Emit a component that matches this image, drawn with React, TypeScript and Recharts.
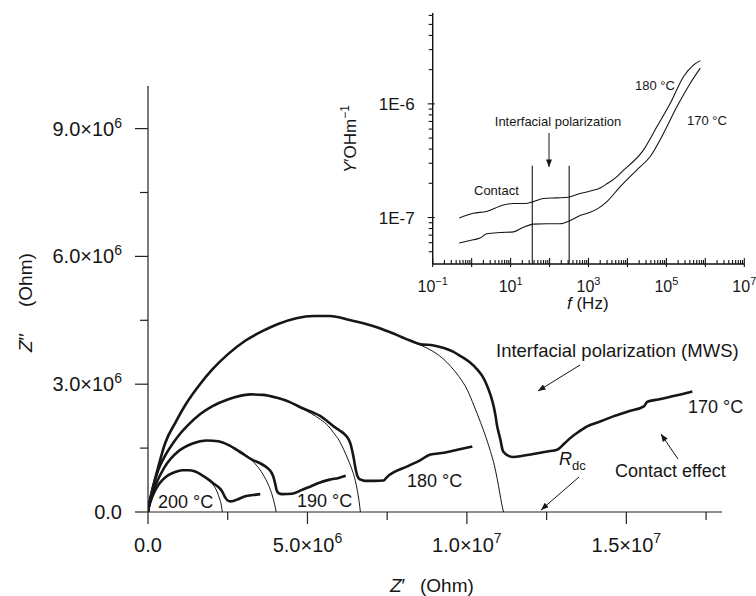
import React from "react";
import { ComposedChart, LineChart, Line, XAxis, YAxis } from "recharts";

const FONT = '"Liberation Sans", Arial, Helvetica, sans-serif';
const INK = "#161616";

// main plot: Z' and Z'' in units of 1e6 Ohm, [Z', Z'']
const fit200 = [[0, 0], [0.02, 0.09], [0.07, 0.22], [0.2, 0.47], [0.33, 0.64], [0.45, 0.75], [0.65, 0.87], [0.85, 0.94], [1.07, 0.98], [1.27, 0.98], [1.48, 0.95], [1.7, 0.86], [1.9, 0.75], [2.05, 0.63], [2.17, 0.47], [2.25, 0.3], [2.3, 0.16], [2.33, 0]];
const data200 = [[0, 0], [0.02, 0.09], [0.07, 0.22], [0.2, 0.47], [0.33, 0.64], [0.45, 0.75], [0.65, 0.87], [0.85, 0.94], [1.07, 0.98], [1.27, 0.98], [1.48, 0.95], [1.7, 0.86], [1.9, 0.76], [2.05, 0.67], [2.22, 0.58], [2.32, 0.49], [2.38, 0.4], [2.44, 0.32], [2.5, 0.27], [2.58, 0.25], [2.68, 0.26], [2.79, 0.29], [3.05, 0.37], [3.3, 0.4], [3.52, 0.42]];

const fit190 = [[0, 0], [0.02, 0.1], [0.07, 0.28], [0.23, 0.62], [0.5, 1.03], [0.96, 1.43], [1.4, 1.61], [1.85, 1.68], [2.2, 1.66], [2.53, 1.57], [3.0, 1.38], [3.3, 1.18], [3.55, 0.95], [3.75, 0.68], [3.88, 0.43], [3.97, 0.18], [4.02, 0]];
const data190 = [[0, 0], [0.02, 0.1], [0.07, 0.28], [0.23, 0.62], [0.5, 1.03], [0.96, 1.43], [1.4, 1.61], [1.85, 1.68], [2.2, 1.66], [2.53, 1.57], [2.9, 1.4], [3.26, 1.23], [3.5, 1.15], [3.68, 1.07], [3.82, 0.98], [3.89, 0.9], [3.95, 0.78], [3.99, 0.66], [4.03, 0.52], [4.1, 0.44], [4.2, 0.42], [4.52, 0.43], [4.83, 0.52], [5.1, 0.6], [5.35, 0.68], [5.7, 0.76], [5.98, 0.8], [6.2, 0.85]];

const fit180 = [[0, 0], [0.02, 0.1], [0.05, 0.23], [0.15, 0.57], [0.33, 1.0], [0.55, 1.34], [0.77, 1.6], [1.0, 1.83], [1.27, 2.05], [1.64, 2.3], [2.01, 2.48], [2.5, 2.64], [2.85, 2.72], [3.21, 2.76], [3.6, 2.75], [4.05, 2.68], [4.45, 2.57], [4.78, 2.44], [5.1, 2.32], [5.41, 2.17], [5.65, 2.02], [5.82, 1.86], [6.0, 1.67], [6.14, 1.46], [6.28, 1.22], [6.4, 0.99], [6.5, 0.74], [6.56, 0.52], [6.62, 0.25], [6.66, 0]];
const data180 = [[0, 0], [0.02, 0.1], [0.05, 0.23], [0.15, 0.57], [0.33, 1.0], [0.55, 1.34], [0.77, 1.6], [1.0, 1.83], [1.27, 2.05], [1.64, 2.3], [2.01, 2.48], [2.5, 2.64], [2.85, 2.72], [3.21, 2.76], [3.6, 2.75], [4.05, 2.68], [4.45, 2.58], [4.78, 2.46], [5.1, 2.36], [5.41, 2.25], [5.62, 2.13], [5.82, 2.01], [6.0, 1.92], [6.17, 1.82], [6.28, 1.72], [6.35, 1.6], [6.4, 1.45], [6.45, 1.27], [6.5, 1.05], [6.56, 0.86], [6.62, 0.78], [6.7, 0.75], [6.8, 0.73], [7.1, 0.73], [7.39, 0.74], [7.47, 0.8], [7.55, 0.86], [7.7, 0.93], [8.13, 1.07], [8.5, 1.2], [8.86, 1.35], [9.28, 1.39], [9.7, 1.46], [10.17, 1.54]];

const fit170 = [[0, 0], [0.02, 0.1], [0.05, 0.23], [0.13, 0.5], [0.28, 0.94], [0.54, 1.62], [0.86, 2.1], [1.22, 2.57], [1.6, 2.97], [2.01, 3.34], [2.5, 3.7], [3.05, 4.02], [3.6, 4.25], [4.1, 4.42], [4.65, 4.55], [5.2, 4.6], [5.7, 4.6], [6.36, 4.5], [7.0, 4.38], [7.6, 4.22], [8.2, 4.02], [8.6, 3.9], [8.96, 3.76], [9.25, 3.6], [9.49, 3.42], [9.75, 3.18], [10.01, 2.87], [10.22, 2.5], [10.43, 2.1], [10.6, 1.75], [10.74, 1.42], [10.86, 1.1], [10.95, 0.78], [11.03, 0.45], [11.09, 0.2], [11.15, 0]];
const data170 = [[0, 0], [0.02, 0.1], [0.05, 0.23], [0.13, 0.5], [0.28, 0.94], [0.54, 1.62], [0.86, 2.1], [1.22, 2.57], [1.6, 2.97], [2.01, 3.34], [2.5, 3.7], [3.05, 4.02], [3.6, 4.25], [4.1, 4.42], [4.65, 4.55], [5.2, 4.6], [5.7, 4.6], [6.36, 4.5], [7.0, 4.38], [7.6, 4.22], [8.2, 4.03], [8.54, 3.94], [8.96, 3.91], [9.28, 3.85], [9.55, 3.77], [9.8, 3.66], [10.08, 3.52], [10.32, 3.35], [10.5, 3.17], [10.64, 2.95], [10.76, 2.7], [10.84, 2.48], [10.9, 2.25], [10.95, 2.01], [11.0, 1.85], [11.05, 1.7], [11.09, 1.55], [11.12, 1.45], [11.16, 1.4], [11.25, 1.34], [11.47, 1.29], [11.75, 1.32], [12.0, 1.35], [12.52, 1.42], [12.83, 1.46], [13.05, 1.6], [13.25, 1.74], [13.5, 1.88], [13.77, 2.01], [14.2, 2.13], [14.61, 2.25], [15.1, 2.37], [15.55, 2.48], [15.66, 2.59], [16.0, 2.64], [16.29, 2.69], [16.7, 2.76], [17.07, 2.83]];

const xTicks = [0, 2.5, 5, 7.5, 10, 12.5, 15, 17.5];
const xMajor = [0, 5, 10, 15];
const xLabels = [["0.0", ""], ["5.0×10", "6"], ["1.0×10", "7"], ["1.5×10", "7"]];
const yTicks = [0, 1.5, 3, 4.5, 6, 7.5, 9];
const yMajor = [0, 3, 6, 9];
const yLabels = [["0.0", ""], ["3.0×10", "6"], ["6.0×10", "6"], ["9.0×10", "6"]];

// inset: [f (Hz), Y' (Ohm^-1 m^-1)]
const inset180 = [[0.48, 9.9e-8], [1.1, 1.09e-7], [2.4, 1.13e-7], [6.5, 1.29e-7], [11.8, 1.33e-7], [23.6, 1.33e-7], [38.5, 1.38e-7], [69.7, 1.47e-7], [154, 1.49e-7], [306, 1.51e-7], [553, 1.61e-7], [1107, 1.71e-7], [2000, 1.82e-7], [2972, 1.98e-7], [5370, 2.29e-7], [6607, 2.46e-7], [25940, 3.94e-7], [57280, 6.31e-7], [125900, 1.01e-6], [276700, 1.74e-6], [500000, 2.2e-6], [741300, 2.4e-6]];
const inset170 = [[0.48, 5.96e-8], [1.1, 6.37e-8], [1.64, 6.59e-8], [2.44, 7.19e-8], [5.37, 7.38e-8], [11.8, 7.48e-8], [21.3, 8.22e-8], [38.5, 8.75e-8], [85, 8.81e-8], [187, 8.81e-8], [339, 9.42e-8], [612, 1.04e-7], [1107, 1.11e-7], [1807, 1.21e-7], [2972, 1.38e-7], [6531, 1.87e-7], [17540, 2.63e-7], [38460, 3.44e-7], [84720, 5.52e-7], [187100, 9.46e-7], [411100, 1.52e-6], [741300, 2.06e-6]];
const bandLow = [[36, 3.9e-8], [36, 2.86e-7]];
const bandHigh = [[319, 3.9e-8], [319, 2.86e-7]];

const fDecades = [0.1, 1, 10, 100, 1000, 1e4, 1e5, 1e6, 1e7];
const fLabelExp: Record<string, string> = { "0.1": "−1", "10": "1", "1000": "3", "100000": "5", "10000000": "7" };
const gDecades = [1e-8, 1e-7, 1e-6];
const gLabels: Record<string, string> = { "1e-7": "1E-7", "0.000001": "1E-6" };

const fDomain = [0.1, 1e7];
const gDomain = [3.9e-8, 6.3e-6];

const pts = (arr: number[][]) => arr.map(([x, y]) => ({ x, y }));
const fpts = (arr: number[][]) => arr.map(([f, g]) => ({ f, g }));

// minor ticks 1..9 x each decade, kept inside [lo, hi]
const minorsOf = (decades: number[], lo: number, hi: number) => {
  const out: number[] = [];
  decades.forEach((d) => {
    for (let m = 1; m <= 9; m++) {
      const v = m * d;
      if (v >= lo && v <= hi) out.push(v);
    }
  });
  return out;
};
const fTicks = minorsOf(fDecades, 0.0999, 1.0001e7);
const gTicks = minorsOf(gDecades, 4.5e-8, gDomain[1]);
const isDecade = (v: number) => Math.abs(Math.log10(v) - Math.round(Math.log10(v))) < 1e-6;

const MainXTick = (props: any) => {
  const { x, y, payload } = props;
  const i = xMajor.indexOf(payload.value);
  const major = i >= 0;
  return (
    <g>
      <line x1={x} x2={x} y1={y} y2={y + (major ? 12 : 8)} stroke="#222" strokeWidth={1.2} />
      {major && (
        <text x={x} y={y + 40} textAnchor="middle" fontSize={20} fill={INK} fontFamily={FONT}>
          {xLabels[i][0]}
          {xLabels[i][1] && <tspan dy={-9} fontSize={14}>{xLabels[i][1]}</tspan>}
        </text>
      )}
    </g>
  );
};

const MainYTick = (props: any) => {
  const { x, y, payload } = props;
  const i = yMajor.indexOf(payload.value);
  const major = i >= 0;
  return (
    <g>
      <line x1={x} x2={x - (major ? 13 : 8)} y1={y} y2={y} stroke="#222" strokeWidth={1.2} />
      {major && (
        <text x={x - 26} y={y + 7} textAnchor="end" fontSize={20} fill={INK} fontFamily={FONT}>
          {yLabels[i][0]}
          {yLabels[i][1] && <tspan dy={-8} fontSize={14}>{yLabels[i][1]}</tspan>}
        </text>
      )}
    </g>
  );
};

const InsetXTick = (props: any) => {
  const { x, y, payload } = props;
  const v = payload.value;
  const major = isDecade(v);
  const exp = major ? fLabelExp[String(v < 1 ? Math.round(v * 10) / 10 : Math.round(v))] : undefined;
  return (
    <g>
      <line x1={x} x2={x} y1={major ? y + 3 : y} y2={y - (major ? 6 : 4)} stroke="#111" strokeWidth={1.1} />
      {exp && (
        <text x={x} y={y + 28} textAnchor="middle" fontSize={16} fill={INK} fontFamily={FONT}>
          10<tspan dy={-7} fontSize={11}>{exp}</tspan>
        </text>
      )}
    </g>
  );
};

const InsetYTick = (props: any) => {
  const { x, y, payload } = props;
  const v = payload.value;
  const major = isDecade(v);
  const lab = major ? gLabels[String(v)] : undefined;
  return (
    <g>
      <line x1={major ? x + 2 : x} x2={x - (major ? 5 : 4)} y1={y} y2={y} stroke="#111" strokeWidth={1.1} />
      {lab && (
        <text x={x - 18} y={y + 6} textAnchor="end" fontSize={17} fill={INK} fontFamily={FONT}>
          {lab}
        </text>
      )}
    </g>
  );
};

const Arrow = ({ x1, y1, x2, y2 }: { x1: number; y1: number; x2: number; y2: number }) => (
  <line x1={x1} y1={y1} x2={x2} y2={y2} stroke={INK} strokeWidth={1} markerEnd="url(#ah)" />
);

export default function App() {
  return (
    <div style={{ position: "absolute", left: 0, top: 0, width: 756, height: 596, background: "#fff" }}>
      <div style={{ position: "absolute", left: 0, top: 0 }}>
        <ComposedChart width={756} height={596} margin={{ top: 86, right: 34, bottom: 44, left: 88 }}>
          <XAxis
            type="number"
            dataKey="x"
            domain={[0, 18]}
            ticks={xTicks}
            interval={0}
            allowDataOverflow
            height={40}
            tickSize={0}
            tickMargin={0}
            tickLine={false}
            tick={MainXTick}
            axisLine={{ stroke: "#222", strokeWidth: 1.2 }}
          />
          <YAxis
            type="number"
            dataKey="y"
            domain={[0, 10]}
            ticks={yTicks}
            interval={0}
            allowDataOverflow
            width={60}
            tickSize={0}
            tickMargin={0}
            tickLine={false}
            tick={MainYTick}
            axisLine={{ stroke: "#222", strokeWidth: 1.2 }}
          />
          {[fit200, fit190, fit180, fit170].map((d, i) => (
            <Line key={"fit" + i} data={pts(d)} dataKey="y" type="monotone" stroke={INK} strokeWidth={1} dot={false} isAnimationActive={false} />
          ))}
          {[data200, data190, data180, data170].map((d, i) => (
            <Line key={"dat" + i} data={pts(d)} dataKey="y" type="monotone" stroke={INK} strokeWidth={2.6} strokeLinejoin="round" dot={false} isAnimationActive={false} />
          ))}
        </ComposedChart>
      </div>

      <div style={{ position: "absolute", left: 330, top: 0 }}>
        <LineChart width={426} height={320} margin={{ top: 13, right: 11.7, bottom: 26, left: 42.7 }}>
          <XAxis
            type="number"
            dataKey="f"
            scale="log"
            domain={fDomain}
            ticks={fTicks}
            interval={0}
            allowDataOverflow
            height={30}
            tickSize={0}
            tickMargin={0}
            tickLine={false}
            tick={InsetXTick}
            axisLine={{ stroke: "#111", strokeWidth: 1.4 }}
          />
          <YAxis
            type="number"
            dataKey="g"
            scale="log"
            domain={gDomain}
            ticks={gTicks}
            interval={0}
            allowDataOverflow
            width={60}
            tickSize={0}
            tickMargin={0}
            tickLine={false}
            tick={InsetYTick}
            axisLine={{ stroke: "#111", strokeWidth: 1.4 }}
          />
          <Line data={fpts(inset180)} dataKey="g" type="monotone" stroke={INK} strokeWidth={1.1} dot={false} isAnimationActive={false} />
          <Line data={fpts(inset170)} dataKey="g" type="monotone" stroke={INK} strokeWidth={1.1} dot={false} isAnimationActive={false} />
          <Line data={fpts(bandLow)} dataKey="g" type="linear" stroke={INK} strokeWidth={1.1} dot={false} isAnimationActive={false} />
          <Line data={fpts(bandHigh)} dataKey="g" type="linear" stroke={INK} strokeWidth={1.1} dot={false} isAnimationActive={false} />
        </LineChart>
      </div>

      <svg width={756} height={596} style={{ position: "absolute", left: 0, top: 0, pointerEvents: "none" }} fontFamily={FONT} fill={INK}>
        <defs>
          <marker id="ah" viewBox="0 0 10 8" refX={10} refY={4} markerWidth={9} markerHeight={6} orient="auto" markerUnits="userSpaceOnUse">
            <path d="M0,0 L10,4 L0,8 z" fill={INK} />
          </marker>
        </defs>

        {/* main axis titles */}
        <text x={32} y={352} transform="rotate(-90 32 352)" fontSize={19}>
          <tspan fontStyle="italic">Z</tspan>′′
        </text>
        <text x={32} y={307} transform="rotate(-90 32 307)" fontSize={19}>(Ohm)</text>
        <text x={390} y={592} fontSize={19}>
          <tspan fontStyle="italic">Z</tspan>′
        </text>
        <text x={420} y={592} fontSize={19}>(Ohm)</text>

        {/* main annotations */}
        <text x={496} y={357} fontSize={18.5}>Interfacial polarization (MWS)</text>
        <Arrow x1={580} y1={365} x2={538} y2={391} />
        <text x={688} y={413} fontSize={18}>170 °C</text>
        <text x={615} y={477} fontSize={18}>Contact effect</text>
        <Arrow x1={678} y1={459} x2={661} y2={434} />
        <text x={559} y={465} fontSize={18} fontStyle="italic">R</text>
        <text x={572} y={470} fontSize={13}>dc</text>
        <Arrow x1={579} y1={477} x2={541} y2={510} />
        <text x={407} y={487} fontSize={18}>180 °C</text>
        <text x={297} y={507} fontSize={18}>190 °C</text>
        <text x={158} y={508} fontSize={18}>200 °C</text>

        {/* inset titles */}
        <text x={356} y={173} transform="rotate(-90 356 173)" fontSize={17}>
          <tspan fontStyle="italic">Y</tspan>′OHm<tspan dy={-7} fontSize={12}>−1</tspan>
        </text>
        <text x={567} y={309} fontSize={17}>
          <tspan fontStyle="italic">f</tspan> (Hz)
        </text>

        {/* inset annotations */}
        <text x={558} y={126} fontSize={13} textAnchor="middle">Interfacial polarization</text>
        <Arrow x1={549} y1={133} x2={549} y2={167} />
        <text x={474} y={195} fontSize={13}>Contact</text>
        <text x={635} y={90} fontSize={13}>180 °C</text>
        <text x={687} y={125} fontSize={13}>170 °C</text>
      </svg>
    </div>
  );
}
